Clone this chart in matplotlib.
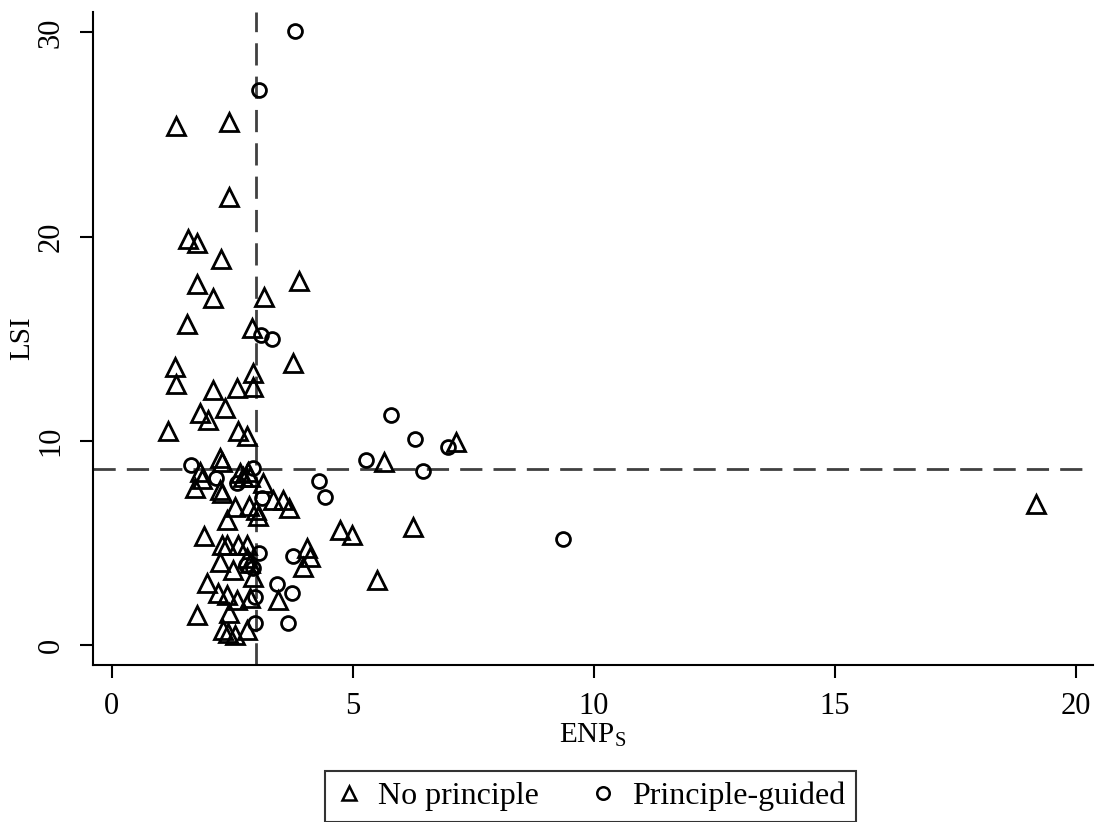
import matplotlib
matplotlib.use("Agg")
import matplotlib.pyplot as plt
from matplotlib.lines import Line2D

plt.rcParams['font.family'] = ['Liberation Serif', 'DejaVu Serif']
plt.rcParams['mathtext.fontset'] = 'custom'
plt.rcParams['mathtext.rm'] = 'Liberation Serif'

# No principle (triangles)
np_x = [1.33, 2.43, 2.43, 1.58, 1.76, 2.26, 1.76, 3.88, 2.10, 3.15, 1.56, 2.90, 3.76,
        1.31, 1.33, 2.10, 2.59, 2.93, 2.93, 2.34, 1.83, 1.99, 1.16, 2.61, 2.80,
        2.24, 2.28, 1.83, 1.87, 1.72, 2.24, 2.28, 2.66, 2.72, 2.82, 2.86, 3.13,
        3.34, 3.55, 3.67, 2.55, 2.84, 3.00, 3.03, 2.39, 1.91, 4.73, 4.98, 6.24,
        5.50, 5.64, 7.14, 2.28, 2.39, 2.61, 2.80, 2.24, 2.51, 2.80, 2.86, 2.93,
        4.05, 4.11, 3.96, 1.97, 2.20, 2.39, 2.59, 2.86, 3.44, 1.76, 2.43, 2.30,
        2.41, 2.55, 2.80, 19.17]
np_y = [25.4, 25.6, 21.96, 19.9, 19.7, 18.9, 17.7, 17.85, 17.0, 17.06, 15.7, 15.5, 13.8,
        13.6, 12.8, 12.5, 12.6, 13.3, 12.65, 11.6, 11.37, 11.0, 10.5, 10.5, 10.25,
        9.17, 8.97, 8.48, 8.12, 7.7, 7.6, 7.45, 8.43, 8.24, 8.48, 8.24, 7.94,
        7.1, 7.1, 6.7, 6.75, 6.8, 6.6, 6.3, 6.1, 5.35, 5.63, 5.4, 5.8,
        3.2, 8.97, 9.95, 4.9, 4.9, 4.9, 4.9, 4.07, 3.68, 4.26, 4.0, 3.33,
        4.75, 4.33, 3.82, 3.04, 2.55, 2.45, 2.2, 2.3, 2.2, 1.47, 1.57, 0.74,
        0.59, 0.49, 0.74, 6.9]

# Principle-guided (circles)
pg_x = [3.80, 3.05, 3.09, 3.32, 1.64, 2.16, 2.59, 2.93, 3.11, 4.29, 4.42, 3.05, 3.76,
        2.93, 2.78, 3.42, 3.73, 2.97, 2.97, 3.65, 5.79, 6.29, 6.97, 5.27, 6.45, 9.36]
pg_y = [30.05, 27.2, 15.2, 15.0, 8.82, 8.19, 7.94, 8.68, 7.2, 8.04, 7.25, 4.5, 4.36,
        3.77, 3.92, 2.99, 2.55, 2.35, 1.08, 1.08, 11.27, 10.1, 9.72, 9.07, 8.53, 5.2]

x_ticks = [0, 5, 10, 15, 20]
y_ticks = [0, 10, 20, 30]
vline_x = 3.0
hline_y = 8.63

fig = plt.figure(figsize=(11, 8.22), dpi=100)
ax = fig.add_axes([0.0845, 0.191, 0.909, 0.7944])

ax.plot(np_x, np_y, linestyle='none', marker='^', markersize=12.5, markerfacecolor='none',
        markeredgecolor='black', markeredgewidth=2.0, zorder=3)
ax.plot(pg_x, pg_y, linestyle='none', marker='o', markersize=10, markerfacecolor='none',
        markeredgecolor='black', markeredgewidth=2.0, zorder=3)

ax.axvline(vline_x, color='#404040', linestyle=(0, (8, 4)), linewidth=2, zorder=2)
ax.axhline(hline_y, color='#404040', linestyle=(0, (8, 4)), linewidth=2, zorder=2)

ax.set_xlim(-0.39, 20.35)
ax.set_ylim(-0.98, 31.0)
ax.set_xticks(x_ticks)
ax.set_yticks(y_ticks)
ax.tick_params(axis='both', labelsize=22, length=9.5, width=1.5, direction='out', pad=10)
for lab in ax.get_yticklabels():
    lab.set_rotation(90)
    lab.set_va('center')
for s in ['top', 'right']:
    ax.spines[s].set_visible(False)
for s in ['left', 'bottom']:
    ax.spines[s].set_linewidth(1.5)

ax.set_xlabel(r'ENP$_{\mathrm{S}}$', fontsize=21, labelpad=0)
ax.set_ylabel('LSI', fontsize=21, labelpad=1)

handles = [
    Line2D([], [], linestyle='none', marker='^', markersize=10, markerfacecolor='none',
           markeredgecolor='black', markeredgewidth=1.8, label='No principle'),
    Line2D([], [], linestyle='none', marker='o', markersize=9, markerfacecolor='none',
           markeredgecolor='black', markeredgewidth=1.8, label='Principle-guided'),
]
leg = fig.legend(handles=handles, loc='center', bbox_to_anchor=(0.537, 0.031), ncol=2,
                 fontsize=23, frameon=True, fancybox=False, edgecolor='black',
                 handlelength=0.8, handletextpad=0.5, columnspacing=1.6, borderpad=0.35)
leg.get_frame().set_linewidth(1.5)

fig.savefig('out.png', dpi=100, facecolor='white')
